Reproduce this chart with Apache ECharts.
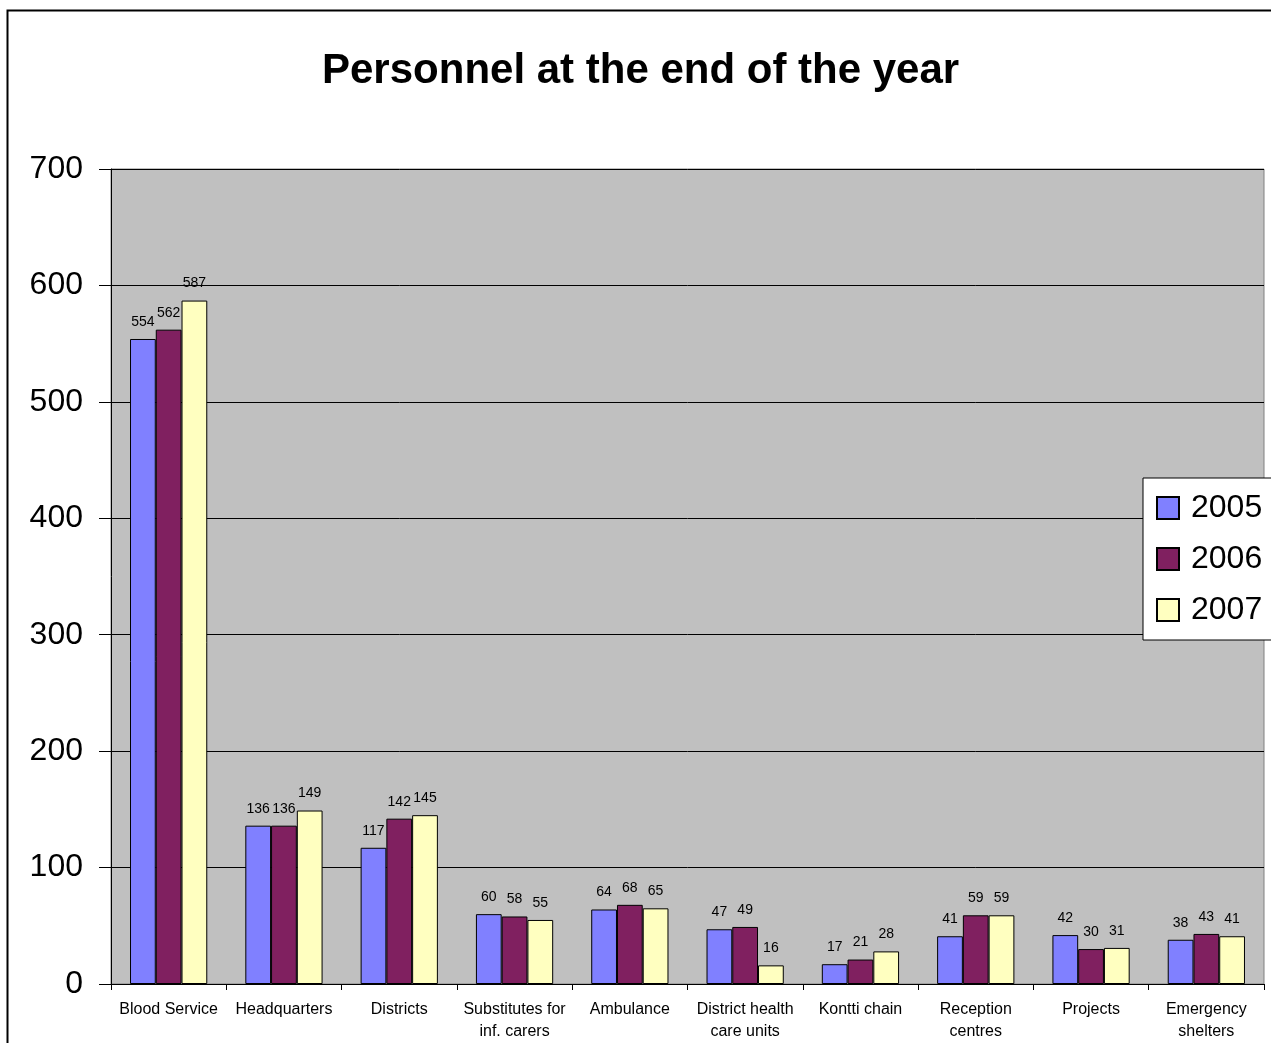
<!DOCTYPE html>
<html>
<head>
<meta charset="utf-8">
<script src="https://cdn.jsdelivr.net/npm/echarts@6/dist/echarts.min.js"></script>
<style>html,body{margin:0;padding:0;background:#fff;}#c{width:1271px;height:1043px;}</style>
</head>
<body>
<div id="c"></div>
<script>
var categories = ['Blood Service', 'Headquarters', 'Districts', 'Substitutes for\ninf. carers', 'Ambulance', 'District health\ncare units', 'Kontti chain', 'Reception\ncentres', 'Projects', 'Emergency\nshelters'];
var s2005 = [554, 136, 117, 60, 64, 47, 17, 41, 42, 38];
var s2006 = [562, 136, 142, 58, 68, 49, 21, 59, 30, 43];
var s2007 = [587, 149, 145, 55, 65, 16, 28, 59, 31, 41];
var yTicks = {min: 0, max: 700, interval: 100};
var FONT = 'Arial, "Liberation Sans", sans-serif';
var chart = echarts.init(document.getElementById('c'));
function mk(name, data, color) {
  return {
    name: name, type: 'bar', data: data, barGap: '0%', barCategoryGap: '33%',
    itemStyle: {color: color, borderColor: '#000', borderWidth: 1},
    label: {show: true, position: 'top', distance: 10, color: '#000', fontSize: 14, fontFamily: FONT},
    animation: false
  };
}
chart.setOption({
  animation: false,
  backgroundColor: '#fff',
  title: {text: 'Personnel at the end of the year', left: 317, top: 45,
    textStyle: {fontSize: 42, fontWeight: 'bold', color: '#000', fontFamily: FONT}},
  graphic: [{type: 'rect', shape: {x: 7.5, y: 10.5, width: 1400, height: 1200}, style: {fill: 'none', stroke: '#000', lineWidth: 2}, z: -10}],
  legend: {
    orient: 'vertical', left: 1143, top: 478, padding: [14, 20, 14, 13],
    backgroundColor: '#fff', borderColor: '#000', borderWidth: 1,
    itemWidth: 22, itemHeight: 22, itemGap: 19, icon: 'rect',
    textStyle: {fontSize: 32, color: '#000', fontFamily: FONT, padding: [0, 0, 0, 7]},
    data: ['2005', '2006', '2007']
  },
  grid: {left: 111, top: 169, width: 1153, height: 816, show: true, backgroundColor: '#C0C0C0', borderColor: '#808080', borderWidth: 1},
  xAxis: {
    type: 'category', data: categories,
    axisLine: {lineStyle: {color: '#000'}},
    axisTick: {show: true, length: 6, lineStyle: {color: '#000'}},
    axisLabel: {interval: 0, color: '#000', fontSize: 16, fontFamily: FONT, lineHeight: 22, margin: 15}
  },
  yAxis: {
    type: 'value', min: yTicks.min, max: yTicks.max, interval: yTicks.interval,
    axisLine: {show: true, lineStyle: {color: '#000'}},
    axisTick: {show: true, length: 12, lineStyle: {color: '#000'}},
    axisLabel: {color: '#000', fontSize: 32, fontFamily: FONT, margin: 28},
    splitLine: {lineStyle: {color: '#000', width: 1}}
  },
  series: [mk('2005', s2005, '#8080FF'), mk('2006', s2006, '#802060'), mk('2007', s2007, '#FFFFC0')]
});
</script>
</body>
</html>
